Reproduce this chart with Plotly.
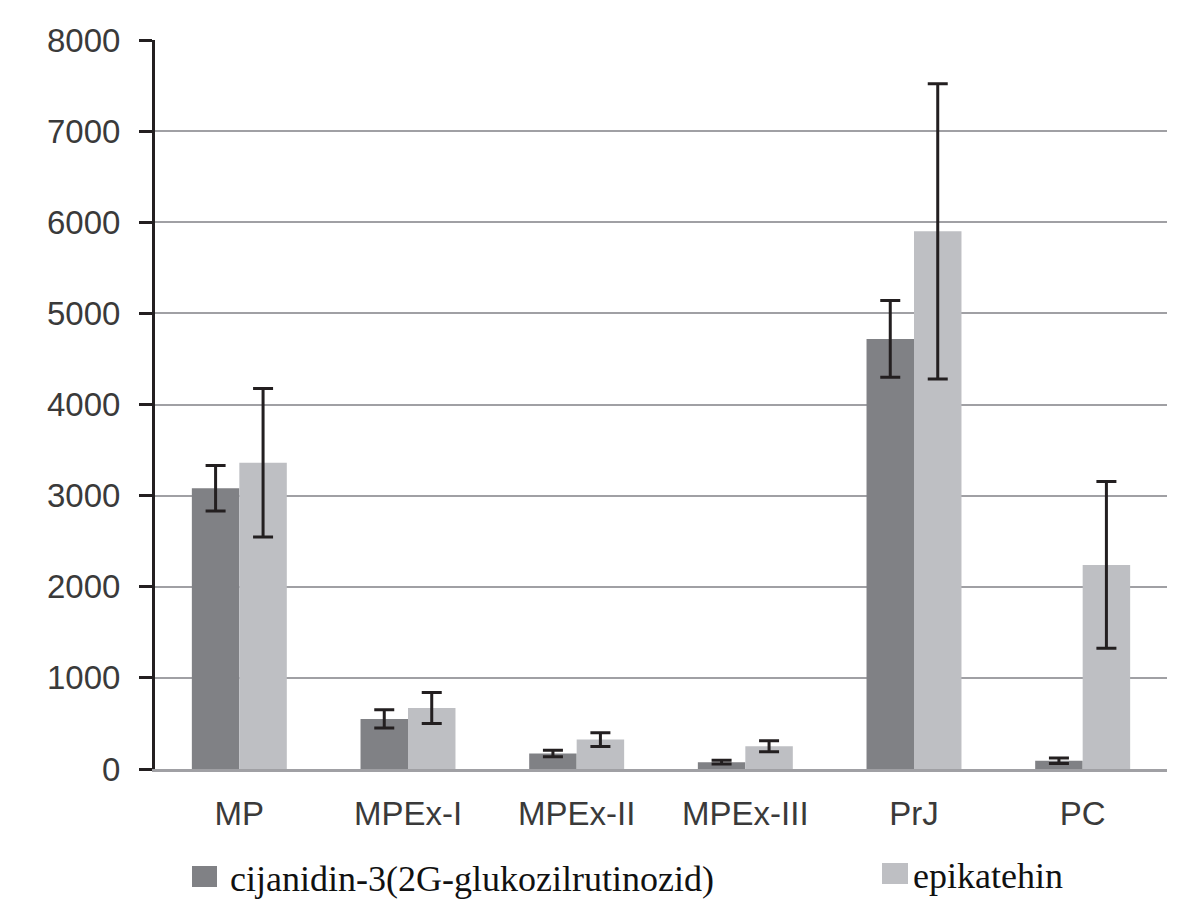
import plotly.graph_objects as go

categories = ["MP", "MPEx-I", "MPEx-II", "MPEx-III", "PrJ", "PC"]
cij_values = [3080, 550, 170, 75, 4720, 90]
cij_errors = [250, 100, 35, 20, 420, 30]
epi_values = [3360, 670, 323, 250, 5900, 2240]
epi_errors = [815, 170, 75, 60, 1620, 915]
series_names = ["cijanidin-3(2G-glukozilrutinozid)", "epikatehin"]
y_ticks = [0, 1000, 2000, 3000, 4000, 5000, 6000, 7000, 8000]

DARK = "#808185"
LIGHT = "#bebfc3"
ERR = "#231f20"

fig = go.Figure()
fig.add_trace(go.Bar(
    x=categories, y=cij_values, name=series_names[0],
    marker=dict(color=DARK, line=dict(width=0)),
    error_y=dict(type="data", array=cij_errors, visible=True,
                 color=ERR, thickness=3, width=10),
    showlegend=False,
))
fig.add_trace(go.Bar(
    x=categories, y=epi_values, name=series_names[1],
    marker=dict(color=LIGHT, line=dict(width=0)),
    error_y=dict(type="data", array=epi_errors, visible=True,
                 color=ERR, thickness=3, width=10),
    showlegend=False,
))

OFF = 8  # page body margin
W, H = 1201 - OFF, 913 - OFF
L, R, T, B = 155 - OFF, 34, 40 - OFF, 144
pw = W - L - R
ph = H - T - B

def px_x(px):
    return (px - OFF - L) / pw

def px_y(py):
    return 1 - (py - OFF - T) / ph

shapes = [
    dict(type="rect", xref="paper", yref="paper", x0=px_x(192), x1=px_x(217),
         y0=px_y(887), y1=px_y(866), fillcolor=DARK, line=dict(width=0)),
    dict(type="rect", xref="paper", yref="paper", x0=px_x(882), x1=px_x(908),
         y0=px_y(884), y1=px_y(863), fillcolor=LIGHT, line=dict(width=0)),
]

annotations = [
    dict(xref="paper", yref="paper", x=px_x(228), y=px_y(879), text=series_names[0],
         showarrow=False, xanchor="left", yanchor="middle",
         font=dict(family="Liberation Serif", size=36, color="#111111")),
    dict(xref="paper", yref="paper", x=px_x(911), y=px_y(876), text=series_names[1],
         showarrow=False, xanchor="left", yanchor="middle",
         font=dict(family="Liberation Serif", size=36, color="#111111")),
]

fig.update_layout(
    width=W, height=H,
    margin=dict(l=L, r=R, t=T, b=B),
    paper_bgcolor="white", plot_bgcolor="white",
    barmode="group", bargap=0.437, bargroupgap=0,
    shapes=shapes, annotations=annotations,
    font=dict(family="Liberation Sans", size=33, color="#3a3a3a"),
)
fig.update_yaxes(
    range=[0, 8000], tickvals=y_ticks, tickformat="d",
    showgrid=True, gridcolor="#a0a0a4", gridwidth=2,
    showline=True, linecolor=ERR, linewidth=3,
    ticks="outside", ticklen=13, tickwidth=3, tickcolor=ERR,
    ticklabelstandoff=12, zeroline=False,
    tickfont=dict(family="Liberation Sans", size=33, color="#3a3a3a"),
)
fig.update_xaxes(
    showline=True, linecolor="#a0a0a4", linewidth=3,
    ticks="", showgrid=False, ticklabelstandoff=13,
    tickfont=dict(family="Liberation Sans", size=33, color="#3a3a3a"),
)

fig.write_html("out.html")
